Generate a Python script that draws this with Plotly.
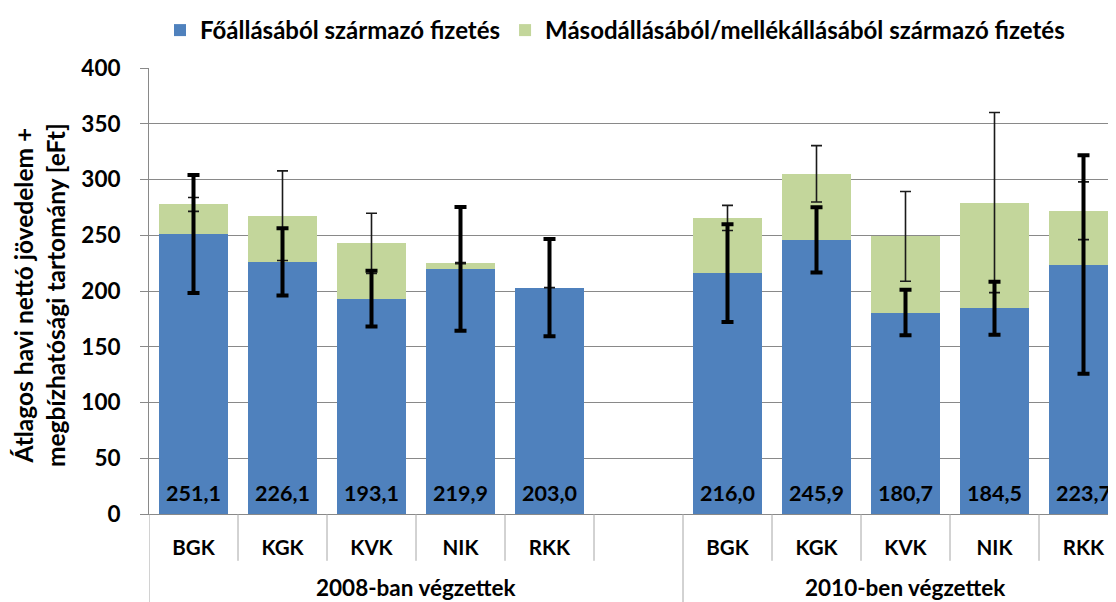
import plotly.graph_objects as go

# ---- data ----
faculties = ["BGK", "KGK", "KVK", "NIK", "RKK"]
groups = ["2008-ban végzettek", "2010-ben végzettek"]

main_2008 = [251.1, 226.1, 193.1, 219.9, 203.0]
main_2010 = [216.0, 245.9, 180.7, 184.5, 223.7]
second_2008 = [26.5, 41.4, 49.6, 5.1, 0.0]
second_2010 = [49.5, 59.2, 68.3, 94.8, 48.3]

# confidence half-ranges
err_main_2008 = [53.0, 30.2, 25.0, 55.5, 43.6]
err_main_2010 = [43.9, 29.3, 20.4, 23.8, 98.0]
err_total_2008 = [6.2, 40.2, 27.0, 0.5, 0.0]
err_total_2010 = [11.3, 25.3, 40.2, 80.8, 25.9]

legend_names = ["Főállásából származó fizetés",
                "Másodállásából/mellékállásából származó fizetés"]
y_title = "Átlagos havi nettó jövedelem +<br>megbízhatósági tartomány [eFt]"

# ---- positions: 5 bars, one empty slot, 5 bars ----
x = list(range(0, 5)) + list(range(6, 11))
main = main_2008 + main_2010
second = second_2008 + second_2010
total = [m + s for m, s in zip(main, second)]
err_main = err_main_2008 + err_main_2010
err_total = err_total_2008 + err_total_2010
labels = faculties + faculties

BLUE = "#4F81BD"
GREEN = "#C3D69B"
GRID = "#898989"
DIV = "#A6A6A6"
FONT = "Lato"

L, T, B = 141, 58, 96
PW, PH = 1116 - L, 602 - T - B
SLOT = 89

def f(size):
    return dict(family=FONT, size=size, color="black", weight="bold")

fig = go.Figure()
fig.add_trace(go.Bar(x=x, y=main, name=legend_names[0], marker=dict(color=BLUE, line=dict(width=0)),
                     width=0.77, hoverinfo="skip"))
fig.add_trace(go.Bar(x=x, y=second, name=legend_names[1], marker=dict(color=GREEN, line=dict(width=0)),
                     width=0.77, hoverinfo="skip"))

# thin error bars around totals
fig.add_trace(go.Scatter(x=x, y=total, mode="markers", marker=dict(size=1, opacity=0),
                         showlegend=False, hoverinfo="skip",
                         error_y=dict(type="data", array=err_total, symmetric=True,
                                      color="#1a1a1a", thickness=1.6, width=5.5)))
# thick error bars around main salary
fig.add_trace(go.Scatter(x=x, y=main, mode="markers", marker=dict(size=1, opacity=0),
                         showlegend=False, hoverinfo="skip",
                         error_y=dict(type="data", array=err_main, symmetric=True,
                                      color="#000000", thickness=4, width=6)))

annotations = []
# value labels at the bottom of the blue bars
for xi, v in zip(x, main):
    annotations.append(dict(x=xi, y=0, xref="x", yref="y", text=f"{v:.1f}".replace(".", ","),
                            showarrow=False, yanchor="middle", yshift=21, font=f(21.5)))
# group labels
group_centers = [(x[0] + x[4]) / 2 + 0.5, (x[5] + x[9]) / 2]
for gx, g in zip(group_centers, groups):
    annotations.append(dict(x=gx, y=-74 / PH, xref="x", yref="paper", text=g, showarrow=False,
                            yanchor="middle", font=f(22.5)))
# y title
annotations.append(dict(x=0, y=0.491, xref="paper", yref="paper", text=y_title, textangle=-90,
                        showarrow=False, xanchor="center", yanchor="middle", xshift=-110,
                        font=f(24.5)))

shapes = []
for b in [i - 0.5 for i in range(0, 12)]:
    is_group = b in (-0.5, 5.5, 10.5)
    shapes.append(dict(type="line", xref="x", yref="paper", x0=b, x1=b, y0=0,
                       y1=-0.3 if is_group else -47 / PH, line=dict(color=DIV, width=1)))

fig.update_layout(
    width=1116, height=602,
    margin=dict(l=L, r=0, t=T, b=B),
    barmode="stack",
    plot_bgcolor="white", paper_bgcolor="white",
    font=dict(family=FONT, size=20, color="black"),
    showlegend=True,
    legend=dict(orientation="h", x=11 / PW, xanchor="left", y=1 + 38 / PH, yanchor="middle",
                font=f(24), traceorder="normal", bgcolor="rgba(0,0,0,0)"),
    annotations=annotations,
    shapes=shapes,
)
fig.update_xaxes(range=[-0.5, -0.5 + PW / SLOT], tickvals=x, ticktext=labels, ticks="",
                 showgrid=False, zeroline=False, showline=True, linecolor=GRID, linewidth=1,
                 tickfont=f(20.5), ticklabelstandoff=15)
fig.update_yaxes(range=[0, 400], dtick=50, showgrid=True, gridcolor=GRID, gridwidth=1,
                 zeroline=False, showline=True, linecolor=GRID, linewidth=1,
                 ticks="outside", ticklen=8, tickcolor=GRID,
                 tickfont=f(22.5), ticklabelstandoff=15)

fig.write_html("out.html")
